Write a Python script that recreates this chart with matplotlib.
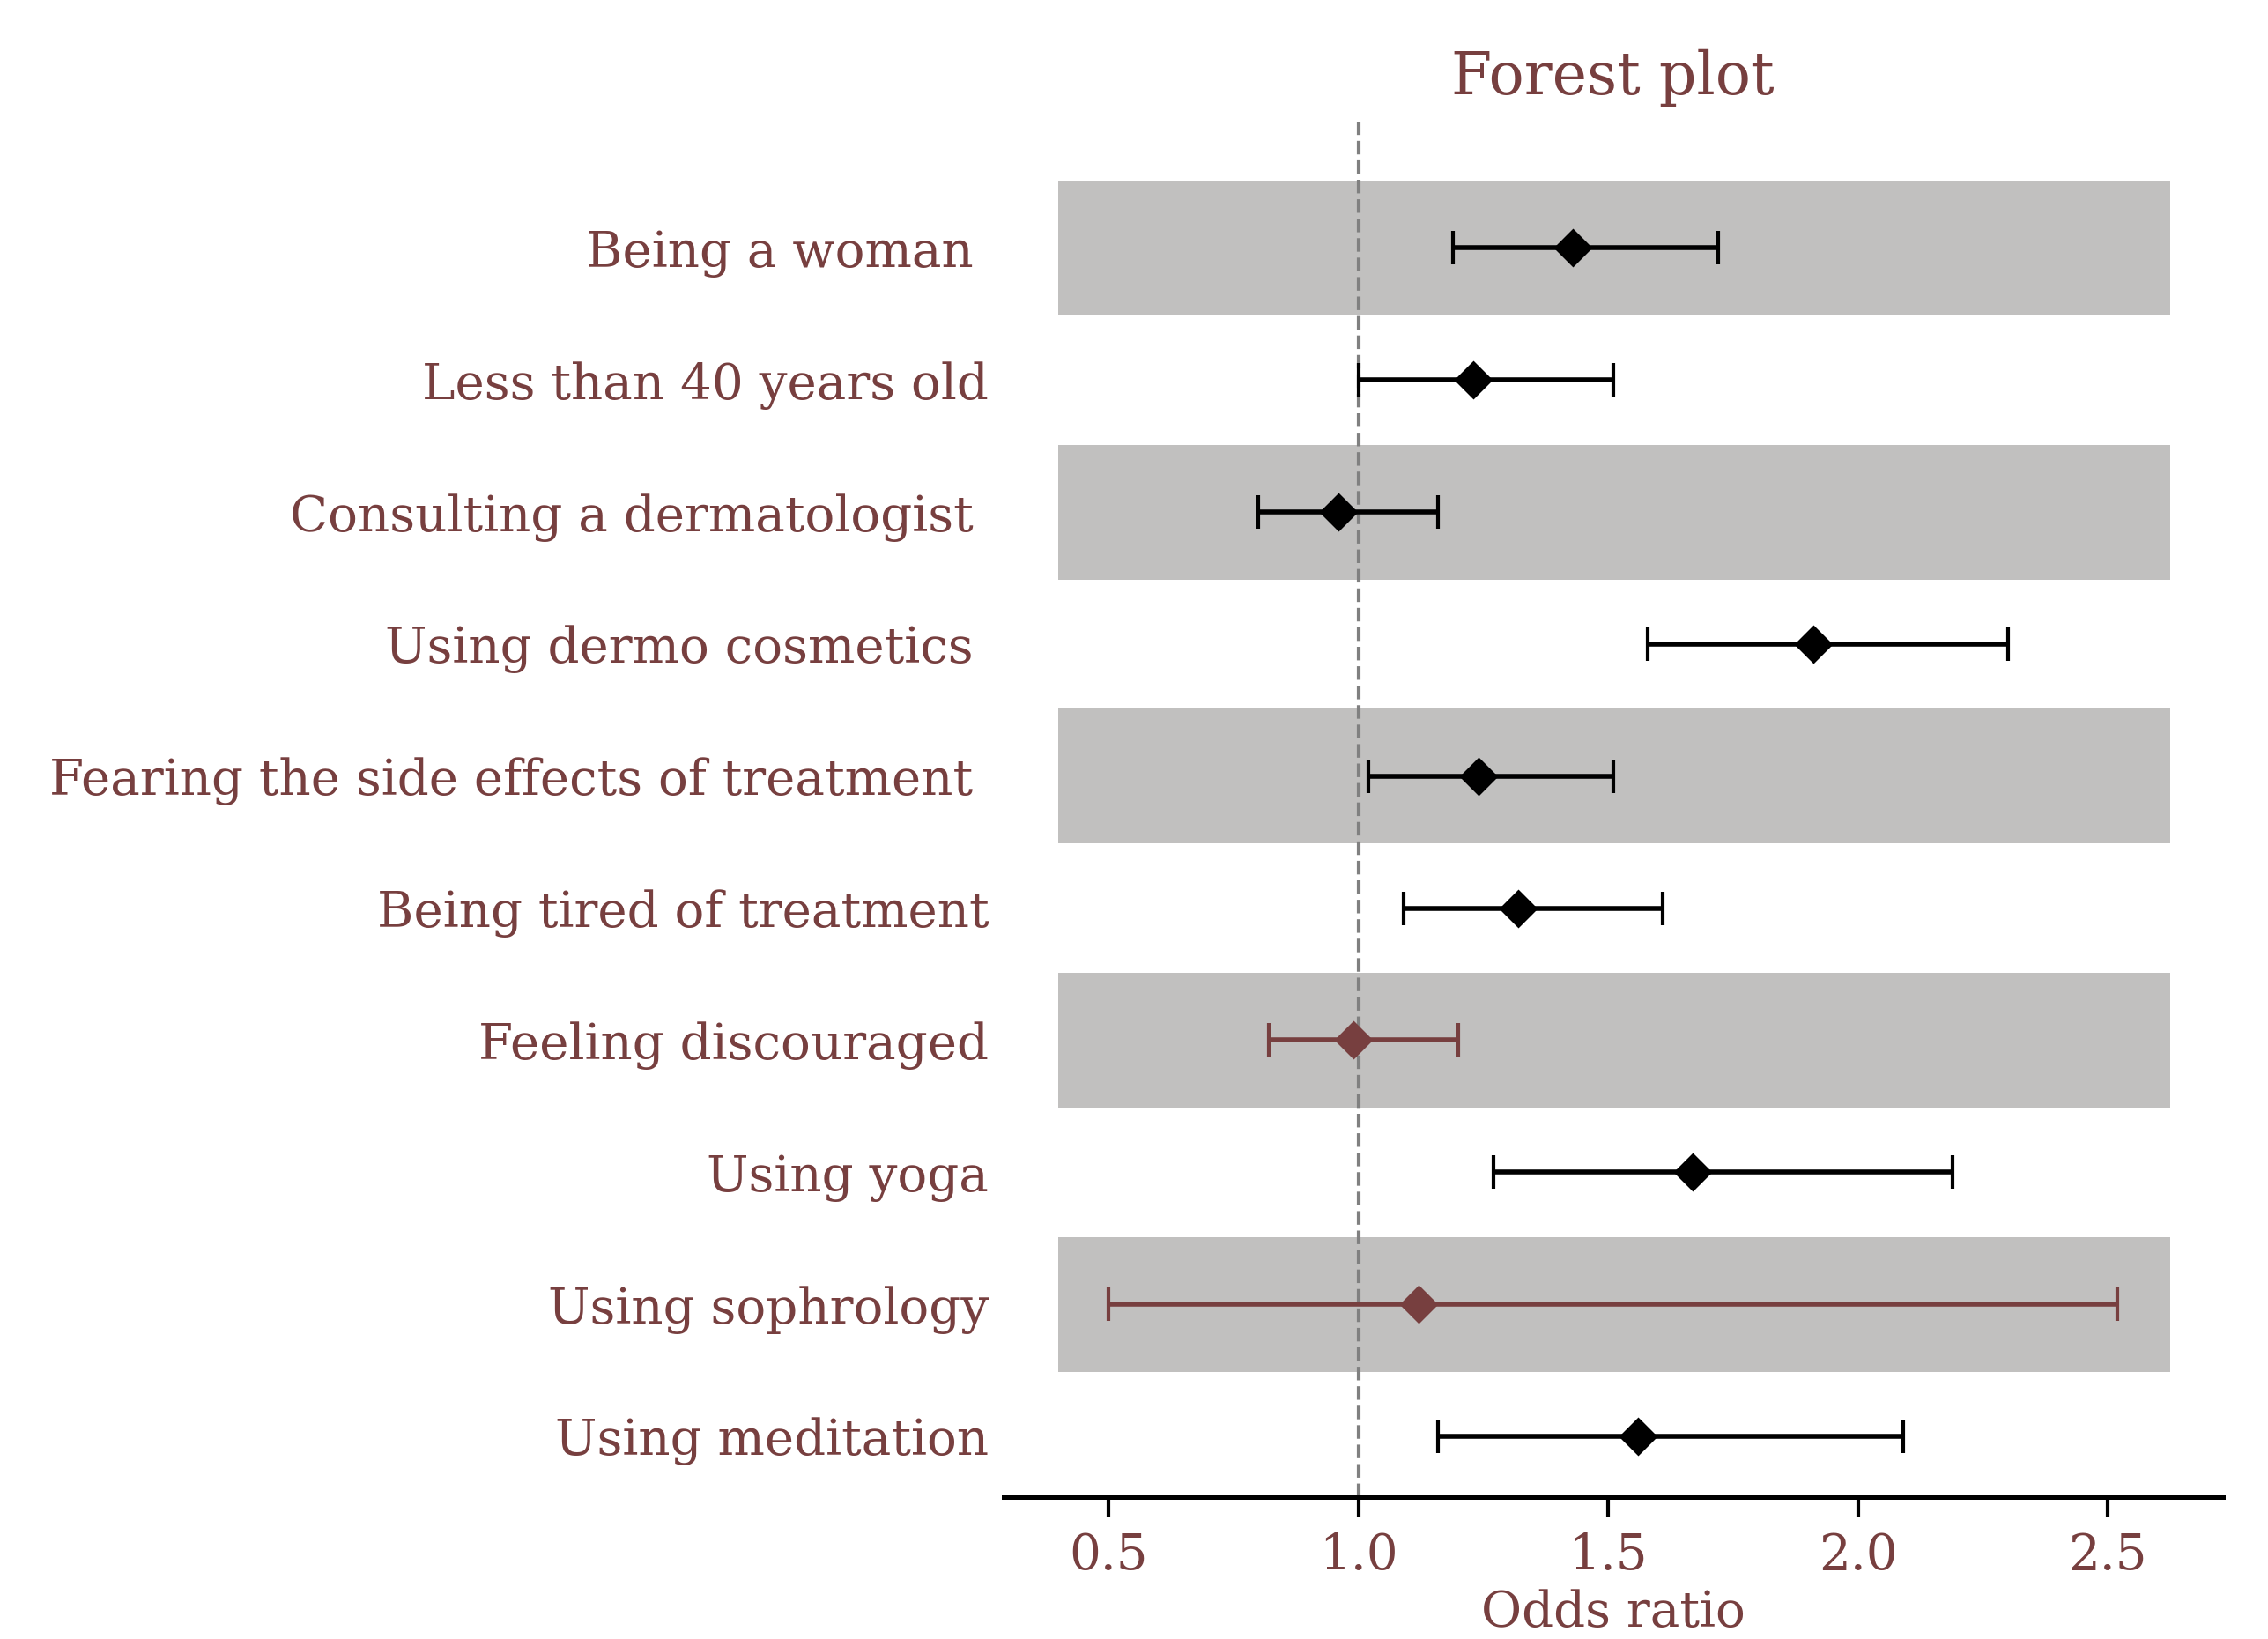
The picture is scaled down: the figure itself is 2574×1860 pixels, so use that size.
import matplotlib
matplotlib.use('Agg')
import matplotlib.pyplot as plt

labels = ['Being a woman ', 'Less than 40 years old', 'Consulting a dermatologist ',
          'Using dermo cosmetics ', 'Fearing the side effects of treatment ',
          'Being tired of treatment', 'Feeling discouraged', 'Using yoga',
          'Using sophrology', 'Using meditation']
odds = [1.43, 1.23, 0.96, 1.91, 1.24, 1.32, 0.99, 1.67, 1.12, 1.56]
lower = [1.19, 1.00, 0.80, 1.58, 1.02, 1.09, 0.82, 1.27, 0.50, 1.16]
upper = [1.72, 1.51, 1.16, 2.30, 1.51, 1.61, 1.20, 2.19, 2.52, 2.09]
significant = [True, True, True, True, True, True, False, True, False, True]

brown = '#773f3f'
plt.rcParams['font.family'] = ['DejaVu Serif']

fig = plt.figure(figsize=(12.87, 9.3), dpi=200)
ax = fig.add_axes([0.4425, 0.0866, 0.5375, 0.8394])

for i, lab in enumerate(labels):
    if i % 2 == 0:
        ax.barh(i, 2.625 - 0.4, left=0.4, height=1.02, color='#c1c0bf', zorder=0)
    c = 'black' if significant[i] else brown
    ax.errorbar(odds[i], i, xerr=[[odds[i] - lower[i]], [upper[i] - odds[i]]],
                fmt='D', color=c, ecolor=c, markersize=10, elinewidth=2,
                capsize=7, capthick=1.5, zorder=3)

ax.axvline(1.0, color='grey', linestyle='--', linewidth=1.5, zorder=2)

ax.set_yticks(range(len(labels)))
ax.set_yticklabels(labels, fontsize=20.3, color=brown)
ax.set_ylim(9.46, -0.96)
ax.set_xlim(0.29, 2.73)
ax.set_xticks([0.5, 1.0, 1.5, 2.0, 2.5])
ax.tick_params(axis='x', labelsize=20.3, labelcolor=brown, length=8, width=1.5, pad=6)
ax.tick_params(axis='y', length=0, pad=6)
for s in ['top', 'right', 'left']:
    ax.spines[s].set_visible(False)
ax.spines['bottom'].set_linewidth(1.8)
ax.set_xlabel('Odds ratio', fontsize=20.3, color=brown, labelpad=4)
ax.set_title('Forest plot', fontsize=24, color=brown, pad=11)

fig.savefig('out.png', dpi=200)
